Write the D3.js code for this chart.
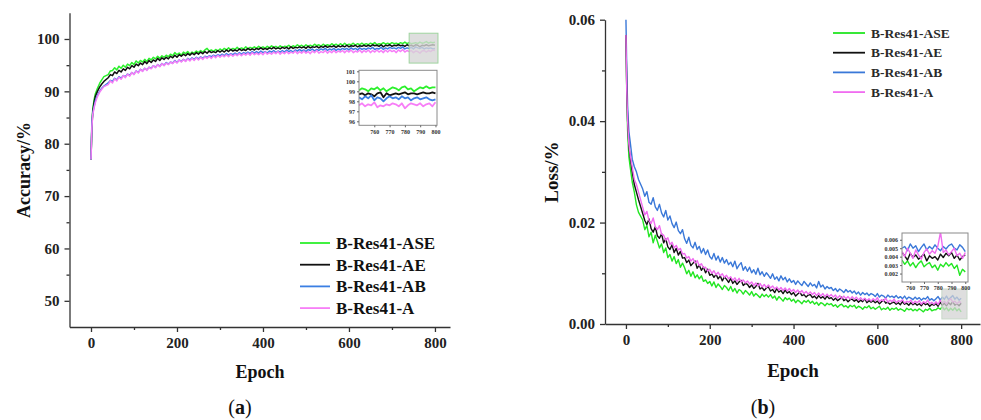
<!DOCTYPE html>
<html lang="en">
<head>
<meta charset="utf-8">
<title>Accuracy and loss curves</title>
<script src="https://d3js.org/d3.v7.min.js"></script>
<style>
  body { margin: 0; background: #fff; }
  text { font-family: "Liberation Serif", "Times New Roman", serif; }
</style>
</head>
<body>
<script>
// ---- data ----
const seriesNames = ["B-Res41-ASE", "B-Res41-AE", "B-Res41-AB", "B-Res41-A"];

const epochs = [0, 2, 4, 7, 10, 15, 20, 25, 30,
  40, 45, 50, 55, 60, 65, 70, 75, 80, 85,
  90, 95, 100, 105, 110, 115, 120, 125, 130, 135,
  140, 145, 150, 155, 160, 165, 170, 175, 180, 185,
  190, 195, 200, 205, 210, 215, 220, 225, 230, 235,
  240, 245, 250, 255, 260, 265, 270, 275, 280, 285,
  290, 295, 300, 305, 310, 315, 320, 325, 330, 335,
  340, 345, 350, 355, 360, 365, 370, 375, 380, 385,
  390, 395, 400, 405, 410, 415, 420, 425, 430, 435,
  440, 445, 450, 455, 460, 465, 470, 475, 480, 485,
  490, 495, 500, 505, 510, 515, 520, 525, 530, 535,
  540, 545, 550, 555, 560, 565, 570, 575, 580, 585,
  590, 595, 600, 605, 610, 615, 620, 625, 630, 635,
  640, 645, 650, 655, 660, 665, 670, 675, 680, 685,
  690, 695, 700, 705, 710, 715, 720, 725, 730, 735,
  740, 745, 750, 755, 760, 765, 770, 775, 780, 785,
  790, 795, 800];

const accASE = [77.0, 83.5, 86.5, 88.3, 89.5, 90.6, 91.5, 92.2, 92.8,
  93.2, 93.9, 94.0, 94.5, 94.1, 94.8, 94.4, 95.0, 94.6, 95.2,
  94.9, 95.5, 95.1, 95.8, 95.4, 95.9, 95.6, 96.1, 95.7, 96.3,
  96.0, 96.5, 96.2, 96.7, 96.3, 96.8, 96.5, 96.9, 96.6, 97.1,
  96.8, 97.4, 97.0, 97.3, 96.9, 97.5, 97.2, 97.6, 97.1, 97.5,
  97.3, 97.7, 97.4, 97.8, 97.5, 97.9, 98.2, 97.7, 97.9, 97.6,
  98.0, 97.7, 98.1, 97.8, 98.2, 97.9, 98.3, 97.9, 98.2, 98.0,
  98.4, 98.0, 98.3, 98.1, 98.5, 98.1, 98.4, 98.2, 98.5, 98.2,
  98.6, 98.3, 98.5, 98.2, 98.6, 98.3, 98.7, 98.4, 98.6, 98.3,
  98.7, 98.4, 98.6, 98.5, 98.8, 98.4, 98.7, 98.5, 98.9, 98.6,
  98.8, 98.5, 98.9, 98.6, 98.8, 98.6, 99.0, 98.7, 98.9, 98.6,
  99.0, 98.7, 98.9, 98.7, 99.1, 98.8, 99.0, 98.7, 99.1, 98.8,
  99.2, 98.8, 99.0, 98.9, 99.2, 98.8, 99.1, 98.9, 99.2, 98.9,
  99.1, 98.9, 99.2, 99.0, 99.3, 98.9, 99.1, 99.0, 99.3, 99.0,
  99.2, 99.0, 99.3, 99.1, 99.2, 99.0, 99.3, 99.1, 99.4, 99.1,
  99.3, 99.1, 99.2, 99.3, 99.1, 99.4, 99.2, 99.3, 99.5, 99.2,
  99.4, 99.3, 99.4];
const accAE = [77.0, 83.0, 86.0, 87.8, 89.0, 90.0, 90.8, 91.4, 91.9,
  92.6, 93.2, 93.0, 93.7, 93.4, 94.0, 93.7, 94.3, 94.0, 94.6,
  94.3, 94.9, 94.6, 95.2, 94.9, 95.4, 95.1, 95.7, 95.3, 95.9,
  95.5, 96.0, 95.7, 96.3, 95.9, 96.4, 96.1, 96.5, 96.2, 96.7,
  96.4, 96.9, 96.5, 97.0, 96.7, 97.1, 96.8, 97.2, 96.9, 97.3,
  97.0, 97.4, 97.1, 97.5, 97.2, 97.6, 97.3, 97.7, 97.4, 97.6,
  97.4, 97.8, 97.5, 97.8, 97.5, 97.9, 97.6, 98.0, 97.7, 97.9,
  97.7, 98.1, 97.8, 98.0, 97.8, 98.2, 97.9, 98.1, 97.9, 98.2,
  98.0, 98.3, 98.0, 98.2, 98.0, 98.3, 98.1, 98.4, 98.1, 98.3,
  98.1, 98.4, 98.2, 98.4, 98.1, 98.5, 98.2, 98.4, 98.3, 98.5,
  98.3, 98.5, 98.2, 98.6, 98.3, 98.5, 98.4, 98.6, 98.3, 98.6,
  98.4, 98.7, 98.4, 98.6, 98.5, 98.7, 98.4, 98.7, 98.5, 98.7,
  98.5, 98.8, 98.5, 98.7, 98.6, 98.8, 98.5, 98.7, 98.6, 98.8,
  98.6, 98.8, 98.6, 98.9, 98.7, 98.8, 98.6, 98.9, 98.5, 98.8,
  98.7, 98.9, 98.6, 98.8, 98.7, 98.9, 98.7, 98.8, 98.6, 98.9,
  98.7, 98.8, 98.6, 98.9, 98.8, 98.5, 98.8, 98.7, 98.9, 98.7,
  98.8, 98.9, 98.8];
const accAB = [77.0, 84.0, 85.8, 87.0, 88.2, 89.3, 90.0, 90.6, 91.0,
  91.6, 92.1, 91.9, 92.5, 92.2, 92.8, 92.5, 93.0, 92.8, 93.3,
  93.1, 93.6, 93.3, 93.9, 93.6, 94.2, 93.9, 94.4, 94.1, 94.6,
  94.4, 94.9, 94.6, 95.1, 94.8, 95.3, 95.0, 95.5, 95.2, 95.6,
  95.4, 95.9, 95.5, 96.0, 95.7, 96.1, 95.8, 96.3, 96.0, 96.4,
  96.1, 96.5, 96.2, 96.6, 96.3, 96.7, 96.5, 96.8, 96.6, 96.9,
  96.7, 97.0, 96.8, 97.1, 96.8, 97.2, 96.9, 97.2, 97.0, 97.3,
  97.0, 97.4, 97.1, 97.4, 97.2, 97.5, 97.2, 97.6, 97.3, 97.6,
  97.3, 97.7, 97.4, 97.6, 97.3, 97.7, 97.5, 97.8, 97.4, 97.7,
  97.5, 97.8, 97.5, 97.9, 97.6, 97.8, 97.5, 97.9, 97.7, 98.0,
  97.7, 97.9, 97.6, 98.0, 97.8, 98.1, 97.7, 98.0, 97.8, 98.1,
  97.9, 98.2, 97.8, 98.1, 97.9, 98.2, 97.8, 98.1, 97.9, 98.2,
  98.0, 98.2, 97.9, 98.3, 98.0, 98.2, 97.9, 98.3, 98.0, 98.2,
  98.0, 98.3, 98.1, 98.4, 98.0, 98.2, 98.1, 98.4, 98.0, 98.3,
  98.1, 98.4, 98.2, 98.3, 98.1, 98.4, 98.2, 98.5, 98.1, 98.3,
  98.2, 98.4, 98.1, 98.5, 98.3, 98.2, 98.4, 98.1, 98.3, 98.2,
  98.3, 98.1, 98.2];
const accA = [77.0, 83.0, 85.5, 86.8, 87.8, 89.0, 89.8, 90.4, 90.9,
  91.3, 92.0, 91.6, 92.4, 92.0, 92.7, 92.3, 93.0, 92.6, 93.3,
  92.9, 93.6, 93.2, 93.9, 93.5, 94.2, 93.8, 94.4, 94.0, 94.6,
  94.3, 94.9, 94.5, 95.1, 94.7, 95.3, 94.9, 95.4, 95.1, 95.6,
  95.3, 95.8, 95.4, 96.0, 95.6, 96.1, 95.7, 96.2, 95.8, 96.3,
  95.9, 96.4, 96.0, 96.5, 96.1, 96.6, 96.3, 96.7, 96.3, 96.8,
  96.4, 96.9, 96.5, 96.9, 96.6, 97.0, 96.6, 97.1, 96.7, 97.1,
  96.8, 97.2, 96.8, 97.2, 96.9, 97.3, 96.9, 97.4, 97.0, 97.3,
  97.0, 97.4, 97.0, 97.5, 97.1, 97.4, 97.1, 97.5, 97.2, 97.6,
  97.1, 97.5, 97.2, 97.6, 97.2, 97.5, 97.3, 97.7, 97.2, 97.6,
  97.3, 97.7, 97.3, 97.6, 97.2, 97.7, 97.4, 97.8, 97.3, 97.6,
  97.4, 97.8, 97.3, 97.7, 97.4, 97.8, 97.4, 97.7, 97.5, 97.8,
  97.4, 97.8, 97.5, 97.9, 97.4, 97.7, 97.5, 97.9, 97.4, 97.8,
  97.5, 97.9, 97.4, 97.8, 97.5, 97.9, 97.5, 97.8, 97.4, 97.9,
  97.5, 97.9, 97.6, 97.8, 97.4, 97.9, 97.6, 98.0, 97.5, 97.8,
  97.6, 97.8, 97.4, 97.7, 97.6, 97.3, 97.7, 97.8, 97.5, 97.8,
  97.6, 97.9, 97.8];

const lossASE = [0.057, 0.045, 0.038, 0.033, 0.031, 0.028, 0.026, 0.0235, 0.022,
  0.0205, 0.0186, 0.0194, 0.0172, 0.0181, 0.0160, 0.0175, 0.0163, 0.0150, 0.0158,
  0.0141, 0.0150, 0.0131, 0.0137, 0.0124, 0.0133, 0.0119, 0.0127, 0.0112, 0.0120,
  0.0111, 0.0099, 0.0106, 0.0094, 0.0103, 0.0091, 0.0097, 0.0089, 0.0095, 0.0084,
  0.0087, 0.0080, 0.0084, 0.0075, 0.0083, 0.0072, 0.0079, 0.0074, 0.0068, 0.0076,
  0.0072, 0.0066, 0.0074, 0.0064, 0.0070, 0.0061, 0.0068, 0.0065, 0.0059, 0.0066,
  0.0062, 0.0057, 0.0064, 0.0055, 0.0060, 0.0056, 0.0052, 0.0059, 0.0054, 0.0058,
  0.0053, 0.0058, 0.0051, 0.0055, 0.0047, 0.0054, 0.0050, 0.0045, 0.0052, 0.0048,
  0.0051, 0.0045, 0.0049, 0.0042, 0.0047, 0.0044, 0.0040, 0.0046, 0.0043, 0.0047,
  0.0041, 0.0045, 0.0039, 0.0043, 0.0037, 0.0042, 0.0040, 0.0036, 0.0041, 0.0038,
  0.0040, 0.0035, 0.0038, 0.0033, 0.0037, 0.0039, 0.0034, 0.0036, 0.0032, 0.0037,
  0.0034, 0.0037, 0.0031, 0.0035, 0.0033, 0.0029, 0.0034, 0.0032, 0.0036, 0.0030,
  0.0033, 0.0029, 0.0032, 0.0035, 0.0028, 0.0031, 0.0029, 0.0033, 0.0027, 0.0031,
  0.0029, 0.0032, 0.0027, 0.0030, 0.0028, 0.0025, 0.0031, 0.0028, 0.0030, 0.0026,
  0.0029, 0.0026, 0.0030, 0.0027, 0.0024, 0.0029, 0.0027, 0.0031, 0.0026, 0.0028,
  0.0028, 0.0032, 0.0029, 0.0034, 0.0028, 0.0032, 0.0026, 0.0031, 0.0027, 0.0032,
  0.0026, 0.0030, 0.0024];
const lossAE = [0.057, 0.046, 0.040, 0.035, 0.033, 0.030, 0.0275, 0.026, 0.0245,
  0.0218, 0.0204, 0.0196, 0.0207, 0.0188, 0.0181, 0.0192, 0.0174, 0.0169, 0.0178,
  0.0160, 0.0168, 0.0152, 0.0147, 0.0156, 0.0141, 0.0149, 0.0136, 0.0143, 0.0130,
  0.0131, 0.0121, 0.0126, 0.0115, 0.0120, 0.0124, 0.0110, 0.0116, 0.0106, 0.0112,
  0.0101, 0.0108, 0.0096, 0.0099, 0.0092, 0.0098, 0.0089, 0.0095, 0.0085, 0.0093,
  0.0088, 0.0082, 0.0090, 0.0080, 0.0085, 0.0078, 0.0083, 0.0086, 0.0076, 0.0080,
  0.0078, 0.0072, 0.0077, 0.0070, 0.0074, 0.0080, 0.0069, 0.0072, 0.0066, 0.0071,
  0.0073, 0.0065, 0.0068, 0.0062, 0.0070, 0.0063, 0.0066, 0.0060, 0.0067, 0.0061,
  0.0064, 0.0058, 0.0062, 0.0055, 0.0059, 0.0063, 0.0056, 0.0058, 0.0053, 0.0057,
  0.0058, 0.0052, 0.0055, 0.0050, 0.0056, 0.0051, 0.0054, 0.0049, 0.0055, 0.0050,
  0.0052, 0.0047, 0.0051, 0.0046, 0.0049, 0.0053, 0.0046, 0.0049, 0.0044, 0.0048,
  0.0049, 0.0045, 0.0048, 0.0043, 0.0047, 0.0044, 0.0050, 0.0042, 0.0046, 0.0043,
  0.0046, 0.0042, 0.0045, 0.0040, 0.0044, 0.0047, 0.0041, 0.0043, 0.0039, 0.0042,
  0.0043, 0.0039, 0.0042, 0.0038, 0.0044, 0.0039, 0.0041, 0.0037, 0.0042, 0.0038,
  0.0041, 0.0037, 0.0040, 0.0036, 0.0042, 0.0038, 0.0040, 0.0035, 0.0039, 0.0037,
  0.0040, 0.0035, 0.0043, 0.0037, 0.0041, 0.0036, 0.0042, 0.0038, 0.0044, 0.0037,
  0.0040, 0.0036, 0.0041];
const lossAB = [0.060, 0.050, 0.043, 0.038, 0.036, 0.0325, 0.031, 0.030, 0.0285,
  0.0266, 0.0252, 0.0261, 0.0240, 0.0236, 0.0249, 0.0231, 0.0224, 0.0236, 0.0219,
  0.0211, 0.0224, 0.0205, 0.0213, 0.0198, 0.0190, 0.0201, 0.0184, 0.0178, 0.0186,
  0.0168, 0.0159, 0.0171, 0.0155, 0.0150, 0.0161, 0.0147, 0.0153, 0.0140, 0.0149,
  0.0137, 0.0146, 0.0133, 0.0128, 0.0139, 0.0126, 0.0134, 0.0122, 0.0131, 0.0120,
  0.0127, 0.0117, 0.0122, 0.0113, 0.0124, 0.0109, 0.0116, 0.0121, 0.0106, 0.0113,
  0.0104, 0.0112, 0.0101, 0.0107, 0.0098, 0.0110, 0.0097, 0.0103, 0.0094, 0.0101,
  0.0096, 0.0090, 0.0099, 0.0088, 0.0093, 0.0085, 0.0095, 0.0087, 0.0092, 0.0083,
  0.0089, 0.0082, 0.0086, 0.0078, 0.0085, 0.0080, 0.0076, 0.0084, 0.0079, 0.0074,
  0.0081, 0.0075, 0.0078, 0.0071, 0.0084, 0.0073, 0.0077, 0.0069, 0.0074, 0.0070,
  0.0072, 0.0066, 0.0070, 0.0064, 0.0069, 0.0066, 0.0062, 0.0068, 0.0063, 0.0066,
  0.0061, 0.0065, 0.0059, 0.0063, 0.0057, 0.0062, 0.0058, 0.0061, 0.0056, 0.0060,
  0.0058, 0.0054, 0.0060, 0.0053, 0.0057, 0.0055, 0.0051, 0.0057, 0.0053, 0.0055,
  0.0052, 0.0056, 0.0051, 0.0054, 0.0050, 0.0055, 0.0049, 0.0053, 0.0051, 0.0048,
  0.0053, 0.0049, 0.0052, 0.0047, 0.0051, 0.0049, 0.0054, 0.0047, 0.0050, 0.0046,
  0.0050, 0.0054, 0.0047, 0.0053, 0.0049, 0.0055, 0.0048, 0.0052, 0.0056, 0.0049,
  0.0053, 0.0047, 0.0051];
const lossA = [0.057, 0.046, 0.040, 0.0355, 0.0335, 0.031, 0.0285, 0.0275, 0.026,
  0.0230, 0.0215, 0.0222, 0.0204, 0.0198, 0.0209, 0.0192, 0.0186, 0.0194, 0.0177,
  0.0175, 0.0165, 0.0170, 0.0157, 0.0161, 0.0150, 0.0155, 0.0146, 0.0149, 0.0138,
  0.0139, 0.0130, 0.0133, 0.0124, 0.0129, 0.0120, 0.0125, 0.0115, 0.0119, 0.0111,
  0.0112, 0.0104, 0.0108, 0.0100, 0.0105, 0.0097, 0.0102, 0.0095, 0.0099, 0.0092,
  0.0096, 0.0089, 0.0093, 0.0086, 0.0091, 0.0084, 0.0090, 0.0083, 0.0087, 0.0081,
  0.0085, 0.0079, 0.0083, 0.0076, 0.0081, 0.0075, 0.0080, 0.0073, 0.0078, 0.0072,
  0.0077, 0.0071, 0.0075, 0.0069, 0.0073, 0.0067, 0.0072, 0.0066, 0.0071, 0.0065,
  0.0070, 0.0064, 0.0068, 0.0062, 0.0067, 0.0061, 0.0066, 0.0060, 0.0064, 0.0059,
  0.0063, 0.0058, 0.0062, 0.0056, 0.0061, 0.0055, 0.0060, 0.0054, 0.0059, 0.0054,
  0.0058, 0.0053, 0.0057, 0.0051, 0.0056, 0.0050, 0.0055, 0.0050, 0.0054, 0.0049,
  0.0054, 0.0049, 0.0053, 0.0047, 0.0052, 0.0047, 0.0051, 0.0046, 0.0050, 0.0045,
  0.0050, 0.0046, 0.0052, 0.0044, 0.0048, 0.0045, 0.0051, 0.0043, 0.0047, 0.0044,
  0.0049, 0.0042, 0.0046, 0.0044, 0.0048, 0.0041, 0.0045, 0.0043, 0.0047, 0.0040,
  0.0045, 0.0042, 0.0046, 0.0039, 0.0044, 0.0041, 0.0047, 0.0040, 0.0043, 0.0039,
  0.0044, 0.0038, 0.0047, 0.0041, 0.0045, 0.0039, 0.0046, 0.0050, 0.0043, 0.0045,
  0.0040, 0.0044, 0.0042];

// zoomed insets (last epochs)
const insetEpochsAcc = [750, 752, 754, 756, 758, 760, 762, 764, 766, 768, 770, 772, 774,
  776, 778, 780, 782, 784, 786, 788, 790, 792, 794, 796, 798, 800];
const insetAccASE = [99.1, 99.3, 99.2, 99.0, 99.3, 99.2, 99.4, 99.1, 99.3, 99.0, 99.2, 99.4, 99.3,
  99.1, 99.4, 99.5, 99.2, 99.3, 99.0, 99.2, 99.4, 99.3, 99.5, 99.3, 99.4, 99.4];
const insetAccAE = [98.7, 98.8, 98.6, 98.8, 98.7, 98.5, 98.8, 98.9, 98.4, 98.8, 98.6, 98.7, 98.8,
  98.7, 98.8, 98.9, 98.7, 98.8, 98.8, 98.7, 98.8, 98.9, 98.8, 98.8, 98.9, 98.8];
const insetAccAB = [98.4, 98.2, 98.5, 98.3, 98.6, 98.1, 98.4, 98.3, 98.0, 98.3, 98.5, 98.3, 98.4,
  98.2, 98.5, 98.3, 98.4, 98.1, 98.3, 98.4, 98.2, 98.3, 98.4, 98.2, 98.1, 98.2];
const insetAccA = [97.6, 97.8, 97.5, 97.7, 97.6, 97.9, 97.4, 97.6, 97.5, 97.7, 97.6, 97.8, 97.7,
  97.5, 97.8, 97.3, 97.6, 97.8, 97.7, 97.6, 97.8, 97.5, 97.7, 97.8, 97.5, 97.9];

const insetEpochsLoss = [754, 756, 758, 760, 762, 764, 766, 768, 770, 772, 774, 776,
  778, 780, 782, 784, 786, 788, 790, 792, 794, 796, 798, 800];
const insetLossASE = [0.0036, 0.0031, 0.0035, 0.0029, 0.0033, 0.0027, 0.0032, 0.0035, 0.0028, 0.0031, 0.0033, 0.0027,
  0.0030, 0.0024, 0.0031, 0.0028, 0.0033, 0.0029, 0.0032, 0.0026, 0.0030, 0.0018, 0.0025, 0.0022];
const insetLossAE = [0.0045, 0.0041, 0.0036, 0.0044, 0.0039, 0.0042, 0.0037, 0.0040, 0.0043, 0.0035, 0.0041, 0.0038,
  0.0040, 0.0036, 0.0043, 0.0039, 0.0044, 0.0041, 0.0045, 0.0038, 0.0042, 0.0036, 0.0040, 0.0042];
const insetLossAB = [0.0050, 0.0052, 0.0047, 0.0055, 0.0050, 0.0053, 0.0046, 0.0051, 0.0055, 0.0048, 0.0052, 0.0049,
  0.0054, 0.0050, 0.0047, 0.0052, 0.0049, 0.0053, 0.0055, 0.0050, 0.0048, 0.0054, 0.0051, 0.0046];
const insetLossA = [0.0046, 0.0040, 0.0050, 0.0044, 0.0038, 0.0048, 0.0042, 0.0037, 0.0045, 0.0049, 0.0043, 0.0047,
  0.0044, 0.0052, 0.0069, 0.0045, 0.0048, 0.0042, 0.0046, 0.0050, 0.0041, 0.0044, 0.0038, 0.0045];

const xTicks = [0, 200, 400, 600, 800];
const xMinor = [100, 300, 500, 700];
const accTicks = [50, 60, 70, 80, 90, 100];
const accMinor = [55, 65, 75, 85, 95];
const lossTicks = [0, 0.02, 0.04, 0.06];
const lossMinor = [0.01, 0.03, 0.05];
const insetXTicks = [760, 770, 780, 790, 800];
const insetAccTicks = [96, 97, 98, 99, 100, 101];
const insetLossTicks = [0.002, 0.003, 0.004, 0.005, 0.006];

// ---- setup ----
const W = 981, H = 420;
const svg = d3.select("body").append("svg").attr("width", W).attr("height", H);
svg.append("rect").attr("width", W).attr("height", H).attr("fill", "#fff");

const zip = (xs, ys) => xs.map((x, i) => [x, ys[i]]);

function axes(g, x, y, o) {
  // major + minor ticks, no frame on top/right
  g.append("g").attr("transform", `translate(0,${y.range()[0]})`)
    .call(d3.axisBottom(x).tickValues(o.xTicks).tickSize(5).tickSizeOuter(0).tickPadding(5))
    .call(a => a.selectAll("text").attr("font-size", o.tickFont).attr("font-weight", "bold").attr("fill", "#222"));
  g.append("g").attr("transform", `translate(0,${y.range()[0]})`)
    .call(d3.axisBottom(x).tickValues(o.xMinor).tickSize(3).tickFormat(""))
    .call(a => a.select(".domain").remove());
  g.append("g").attr("transform", `translate(${x.range()[0]},0)`)
    .call(d3.axisLeft(y).tickValues(o.yTicks).tickSize(5).tickSizeOuter(0).tickPadding(5).tickFormat(o.yFormat))
    .call(a => a.selectAll("text").attr("font-size", o.tickFont).attr("font-weight", "bold").attr("fill", "#222"));
  g.append("g").attr("transform", `translate(${x.range()[0]},0)`)
    .call(d3.axisLeft(y).tickValues(o.yMinor).tickSize(3).tickFormat(""))
    .call(a => a.select(".domain").remove());
  g.selectAll(".domain, .tick line").attr("stroke", "#333").attr("stroke-width", 1.3);
}

function lines(g, x, y, list, width) {
  const line = d3.line().defined(d => d[1] != null).x(d => x(d[0])).y(d => y(d[1]));
  list.forEach(s => {
    g.append("path").datum(zip(s.xs, s.ys))
      .attr("fill", "none").attr("stroke", s.color).attr("stroke-width", width)
      .attr("stroke-linejoin", "round").attr("d", line);
  });
}

function inset(g, id, box, xDom, yDom, list, yTicks, yFmt, width) {
  const ix = d3.scaleLinear().domain(xDom).range([box.x0, box.x1]);
  const iy = d3.scaleLinear().domain(yDom).range([box.y1, box.y0]);
  svg.append("clipPath").attr("id", id).append("rect")
    .attr("x", box.x0).attr("y", box.y0).attr("width", box.x1 - box.x0).attr("height", box.y1 - box.y0);
  g.append("rect").attr("x", box.x0).attr("y", box.y0)
    .attr("width", box.x1 - box.x0).attr("height", box.y1 - box.y0).attr("fill", "#fff");
  lines(g.append("g").attr("clip-path", `url(#${id})`), ix, iy, list, width);
  g.append("rect").attr("x", box.x0).attr("y", box.y0)
    .attr("width", box.x1 - box.x0).attr("height", box.y1 - box.y0)
    .attr("fill", "none").attr("stroke", "#8a8a8a").attr("stroke-width", 1);
  const ax = g.append("g").attr("transform", `translate(0,${box.y1})`)
    .call(d3.axisBottom(ix).tickValues(insetXTicks).tickSize(2).tickSizeOuter(0).tickPadding(2));
  const ay = g.append("g").attr("transform", `translate(${box.x0},0)`)
    .call(d3.axisLeft(iy).tickValues(yTicks).tickSize(2).tickSizeOuter(0).tickPadding(2).tickFormat(yFmt));
  [ax, ay].forEach(a => {
    a.select(".domain").remove();
    a.selectAll(".tick line").attr("stroke", "#666");
    a.selectAll("text").attr("font-size", 6).attr("font-weight", "bold").attr("fill", "#333");
  });
}

function legend(g, x0, y0, dy, len, fontSize, list, color) {
  list.forEach((s, i) => {
    const y = y0 + i * dy;
    g.append("line").attr("x1", x0).attr("x2", x0 + len).attr("y1", y).attr("y2", y)
      .attr("stroke", s.color).attr("stroke-width", 1.8);
    g.append("text").attr("x", x0 + len + 6).attr("y", y).attr("dy", "0.35em")
      .attr("font-size", fontSize).attr("font-weight", "bold").attr("fill", color).text(s.name);
  });
}

// ---- (a) accuracy ----
const colorsA = ["#2cf02c", "#111111", "#3b7fe3", "#f77ef7"];
const ga = svg.append("g");
const xa = d3.scaleLinear().domain([-50, 835]).range([69.5, 450]);
const ya = d3.scaleLinear().domain([45, 105]).range([327, 12.8]);
axes(ga, xa, ya, { xTicks, xMinor, yTicks: accTicks, yMinor: accMinor, tickFont: 15, yFormat: d3.format("d") });

const accSeries = [accASE, accAE, accAB, accA].map((ys, i) => ({ name: seriesNames[i], color: colorsA[i], xs: epochs, ys }));
lines(ga, xa, ya, accSeries, 1.5);

ga.append("rect").attr("x", xa(740)).attr("y", ya(101.1))
  .attr("width", xa(807) - xa(740)).attr("height", ya(95.4) - ya(101.1))
  .attr("fill", "#d6d6d6").attr("fill-opacity", 0.8).attr("stroke", "#9fd49f").attr("stroke-width", 1);

const accInset = [insetAccASE, insetAccAE, insetAccAB, insetAccA].map((ys, i) => ({ color: colorsA[i], xs: insetEpochsAcc, ys }));
inset(ga, "clipA", { x0: 359, x1: 437, y0: 70.3, y1: 125.3 }, [750, 801], [95.6, 101.1], accInset, insetAccTicks, d3.format("d"), 1.8);

legend(ga, 300, 243, 21.7, 30, 17, accSeries, "#111");

ga.append("text").attr("transform", "translate(30,170) rotate(-90)").attr("text-anchor", "middle")
  .attr("font-size", 18).attr("font-weight", "bold").attr("fill", "#111").text("Accuracy/%");
ga.append("text").attr("x", 260).attr("y", 378).attr("text-anchor", "middle")
  .attr("font-size", 18).attr("font-weight", "bold").attr("fill", "#111").text("Epoch");
const capA = ga.append("text").attr("x", 240).attr("y", 414).attr("text-anchor", "middle").attr("font-size", 20).attr("fill", "#111");
capA.append("tspan").text("(");
capA.append("tspan").attr("font-weight", "bold").text("a");
capA.append("tspan").text(")");

// ---- (b) loss ----
const colorsB = ["#22e622", "#111111", "#3a78d8", "#f06cf0"];
const gb = svg.append("g");
const xb = d3.scaleLinear().domain([-50, 845]).range([605, 980]);
const yb = d3.scaleLinear().domain([0, 0.06]).range([324, 19.7]);
axes(gb, xb, yb, { xTicks, xMinor, yTicks: lossTicks, yMinor: lossMinor, tickFont: 15, yFormat: d3.format(".2f") });

const lossSeries = [lossASE, lossAE, lossAB, lossA].map((ys, i) => ({ name: seriesNames[i], color: colorsB[i], xs: epochs, ys }));
lines(gb, xb, yb, [lossSeries[0], lossSeries[2], lossSeries[1], lossSeries[3]], 1.4);

gb.append("rect").attr("x", xb(754)).attr("y", yb(0.0069))
  .attr("width", xb(814) - xb(754)).attr("height", yb(0.001) - yb(0.0069))
  .attr("fill", "#d3d3d3").attr("fill-opacity", 0.75).attr("stroke", "#c8d8c8").attr("stroke-width", 1);

const lossInset = [insetLossASE, insetLossAE, insetLossAB, insetLossA].map((ys, i) => ({ color: colorsB[i], xs: insetEpochsLoss, ys }));
inset(gb, "clipB", { x0: 902, x1: 968, y0: 233, y1: 282 }, [754, 802], [0.001, 0.0068], lossInset, insetLossTicks, d3.format(".3f"), 1.4);

legend(gb, 833, 33, 19.7, 32, 13.5, lossSeries, "#2a2a2a");

gb.append("text").attr("transform", "translate(558,172) rotate(-90)").attr("text-anchor", "middle")
  .attr("font-size", 19).attr("font-weight", "bold").attr("fill", "#111").text("Loss/%");
gb.append("text").attr("x", 793).attr("y", 377).attr("text-anchor", "middle")
  .attr("font-size", 19).attr("font-weight", "bold").attr("fill", "#111").text("Epoch");
const capB = gb.append("text").attr("x", 763).attr("y", 414).attr("text-anchor", "middle").attr("font-size", 20).attr("fill", "#111");
capB.append("tspan").text("(");
capB.append("tspan").attr("font-weight", "bold").text("b");
capB.append("tspan").text(")");
</script>
</body>
</html>
